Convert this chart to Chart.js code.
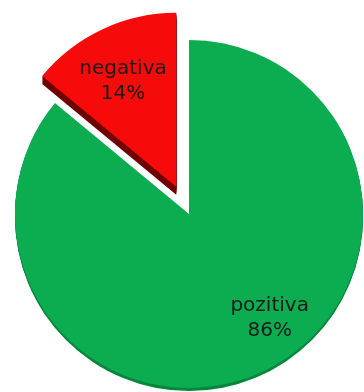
<!DOCTYPE html>
<html>
<head>
<meta charset="utf-8">
<script src="https://cdn.jsdelivr.net/npm/chart.js@4.4.0/dist/chart.umd.min.js"></script>
<style>
  html, body { margin: 0; padding: 0; background: #ffffff; }
  #wrap { width: 364px; height: 392px; }
</style>
</head>
<body>
<div id="wrap"><canvas id="pie" width="364" height="392"></canvas></div>
<script>
// ---------- DATA ----------
const categories = ["pozitiva", "negativa"];
const shares = [86, 14];

// ---------- STYLE ----------
const faceColors = ["#0cac51", "#f70a0a"];
const sideColors = ["#07863d", "#700000"];
const explode = [0, 30];   // px a slice is pulled out along its middle
const depth = [3, 8];      // px of the 3D side wall
const labelSpot = [
    { along: 0.46, out: 0.76 },
    { along: 0.47, out: 0.68 }
];

function slicePush(arc, i) {
    const mid = (arc.startAngle + arc.endAngle) / 2;
    return { dx: Math.cos(mid) * explode[i], dy: Math.sin(mid) * explode[i] };
}

// ---------- 3D PIE + LABELS ----------
const pie3d = {
    id: "pie3d",
    beforeDatasetDraw(chart, args) {
        const ctx = chart.ctx;
        const arcs = args.meta.data;

        // side walls first
        arcs.forEach((arc, i) => {
            const p = slicePush(arc, i);
            ctx.save();
            ctx.fillStyle = sideColors[i];
            for (let k = depth[i]; k > 0; k--) {
                const cx = arc.x + p.dx, cy = arc.y + p.dy + k;
                ctx.beginPath();
                ctx.moveTo(cx, cy);
                ctx.arc(cx, cy, arc.outerRadius, arc.startAngle, arc.endAngle);
                ctx.closePath();
                ctx.fill();
            }
            ctx.restore();
        });

        // top faces
        arcs.forEach((arc, i) => {
            const p = slicePush(arc, i);
            ctx.save();
            ctx.translate(p.dx, p.dy);
            arc.draw(ctx);
            ctx.restore();
        });

        return false;
    },
    afterDatasetsDraw(chart) {
        const ctx = chart.ctx;
        const arcs = chart.getDatasetMeta(0).data;
        const total = shares.reduce((a, b) => a + b, 0);

        ctx.save();
        ctx.font = "20px 'DejaVu Sans'";
        ctx.fillStyle = "#1b1b1b";
        ctx.textAlign = "center";
        ctx.textBaseline = "middle";
        arcs.forEach((arc, i) => {
            const p = slicePush(arc, i);
            const a = arc.startAngle + (arc.endAngle - arc.startAngle) * labelSpot[i].along;
            const r = arc.outerRadius * labelSpot[i].out;
            const x = arc.x + p.dx + Math.cos(a) * r;
            const y = arc.y + p.dy + Math.sin(a) * r;
            ctx.fillText(categories[i], x, y - 12.5);
            ctx.fillText(Math.round(shares[i] / total * 100) + "%", x, y + 12.5);
        });
        ctx.restore();
    }
};

// ---------- CHART ----------
new Chart(document.getElementById("pie"), {
    type: "pie",
    data: {
        labels: categories,
        datasets: [{
            data: shares,
            backgroundColor: faceColors,
            borderWidth: 0,
            radius: 174
        }]
    },
    options: {
        responsive: false,
        animation: false,
        events: [],
        layout: {
            padding: { left: 14, right: 0, top: 36, bottom: 0 }
        },
        plugins: {
            legend: { display: false },
            tooltip: { enabled: false }
        }
    },
    plugins: [pie3d]
});
</script>
</body>
</html>
